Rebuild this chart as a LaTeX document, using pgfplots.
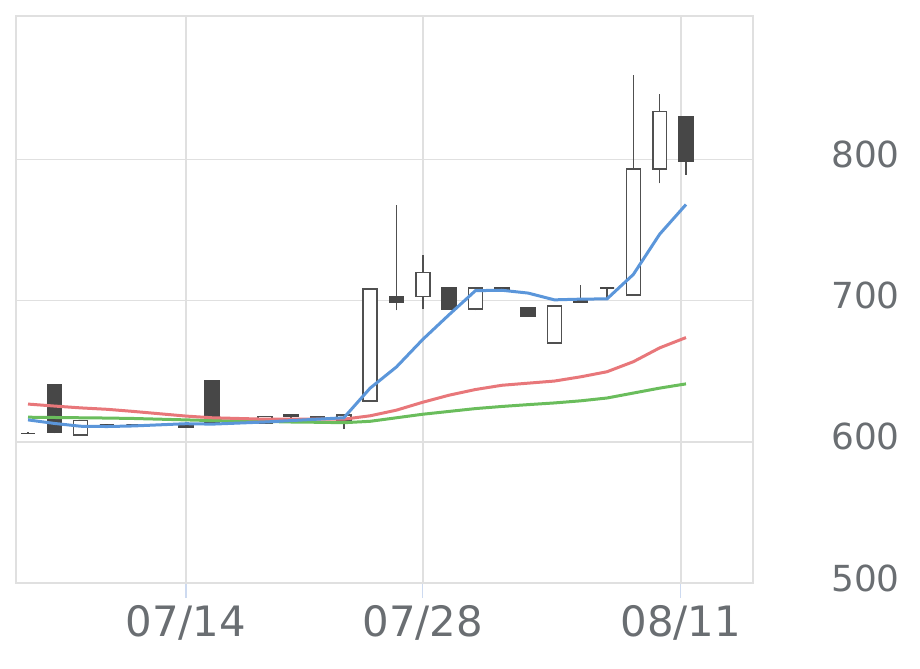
\documentclass[border=0pt]{standalone}
\usepackage{pgfplots}
\pgfplotsset{compat=1.18}
\usepackage{fontspec}
\setmainfont{DejaVu Sans}
\definecolor{maBlue}{HTML}{5B96DA}
\definecolor{maRed}{HTML}{E8777A}
\definecolor{maGreen}{HTML}{6ABD5C}
\definecolor{dark}{HTML}{474747}
\definecolor{edge}{HTML}{505050}
\definecolor{gridc}{HTML}{E0E0E0}
\definecolor{txt}{HTML}{6A6E72}
\definecolor{tickc}{HTML}{CDDAF0}
% candle: pos, low, body low, body high, high, style
\newcommand{\cdl}[6]{%
  \pgfmathsetmacro{\cl}{#1-0.265}\pgfmathsetmacro{\cr}{#1+0.265}%
  \edef\tmp{\noexpand\addplot[draw=edge, line width=1.5bp, mark=none] coordinates {(#1,#2) (#1,#5)};}\tmp
  \edef\tmp{\noexpand\addplot[#6, line width=1.6bp, mark=none] coordinates {(\cl,#3) (\cr,#3) (\cr,#4) (\cl,#4)} --cycle;}\tmp
}
\begin{document}
\begin{tikzpicture}
\begin{axis}[
  at={(16bp,86bp)}, anchor=south west,
  scale only axis, width=737bp, height=567bp,
  xmin=-0.456, xmax=27.546, ymin=500, ymax=901.5,
  axis line style={draw=gridc, line width=2bp},
  xtick={6,15,24.8}, xticklabels={07/14,07/28,08/11},
  ytick={500,600,700,800},
  yticklabel pos=right,
  xtick pos=bottom,
  grid=major, major grid style={draw=gridc, line width=1.6bp},
  tick align=outside, major tick length=15bp,
  xtick style={draw=tickc, line width=1.2bp},
  ytick style={draw=none},
  /pgf/number format/assume math mode=true,
  xticklabel style={font=\fontsize{42}{48}\selectfont, text=txt, anchor=base, inner sep=0pt, yshift=-38bp},
  yticklabel style={font=\fontsize{36}{42}\selectfont, text=txt, anchor=base east, inner sep=0pt, xshift=132bp, yshift=-8bp},
]
\cdl{0}{606}{606}{606}{607}{draw=dark, fill=dark}
\cdl{1}{606}{607}{640}{640}{draw=dark, fill=dark}
\cdl{2}{605}{605}{615}{615}{draw=edge, fill=white}
\cdl{3}{612}{612}{612}{612}{draw=dark, fill=dark}
\cdl{4}{612}{612}{612}{612}{draw=dark, fill=dark}
\cdl{6}{610}{610}{611}{611}{draw=dark, fill=dark}
\cdl{7}{614}{614}{643}{643}{draw=dark, fill=dark}
\cdl{9}{613}{613}{618}{618}{draw=edge, fill=white}
\cdl{10}{616}{618}{619}{619}{draw=dark, fill=dark}
\cdl{11}{617}{617}{618}{618}{draw=edge, fill=white}
\cdl{12}{609}{615}{619}{619}{draw=edge, fill=white}
\cdl{13}{629}{629}{708}{709}{draw=edge, fill=white}
\cdl{14}{693}{699}{703}{768}{draw=dark, fill=dark}
\cdl{15}{694}{703}{720}{732}{draw=edge, fill=white}
\cdl{16}{694}{694}{709}{709}{draw=dark, fill=dark}
\cdl{17}{693}{694}{709}{709}{draw=edge, fill=white}
\cdl{18}{708}{708}{709}{709}{draw=dark, fill=dark}
\cdl{19}{689}{689}{695}{695}{draw=dark, fill=dark}
\cdl{20}{670}{670}{696}{696}{draw=edge, fill=white}
\cdl{21}{699}{699}{700}{711}{draw=dark, fill=dark}
\cdl{22}{701}{709}{709}{709}{draw=dark, fill=dark}
\cdl{23}{704}{704}{793}{860}{draw=edge, fill=white}
\cdl{24}{783}{793}{834}{846}{draw=edge, fill=white}
\cdl{25}{789}{799}{830}{830}{draw=dark, fill=dark}
% moving averages
\addplot[maGreen, line width=3bp, mark=none] coordinates {
(0,617.4) (1,617.2) (2,617) (3,616.8) (4,616.5) (6,615.5) (7,615) (9,614.4) (10,614) (11,613.8) (12,613.5)
(13,614.5) (14,617) (15,619.5) (16,621.5) (17,623.5) (18,625) (19,626.3) (20,627.5) (21,629) (22,631) (23,634.5) (24,638) (25,641)};
\addplot[maRed, line width=3bp, mark=none] coordinates {
(0,626.7) (1,625.3) (2,624) (3,623) (4,621.5) (6,618.2) (7,617) (9,616) (10,616) (11,616) (12,616)
(13,618.4) (14,622.4) (15,628) (16,633) (17,637) (18,640) (19,641.5) (20,643) (21,646) (22,649.6) (23,656.7) (24,666.5) (25,673.8)};
\addplot[maBlue, line width=3bp, mark=none] coordinates {
(0,615.5) (1,613) (2,611) (3,610.8) (4,611.2) (6,612.8) (7,612.5) (9,614) (10,615) (11,616) (12,617)
(13,638) (14,653) (15,672.5) (16,690) (17,707) (18,707.3) (19,705.3) (20,700.5) (21,701) (22,701.2) (23,718.5) (24,747) (25,768)};
\end{axis}
\pgfresetboundingbox
\path[use as bounding box] (0,0) rectangle (920bp,669bp);
\end{tikzpicture}
\end{document}
